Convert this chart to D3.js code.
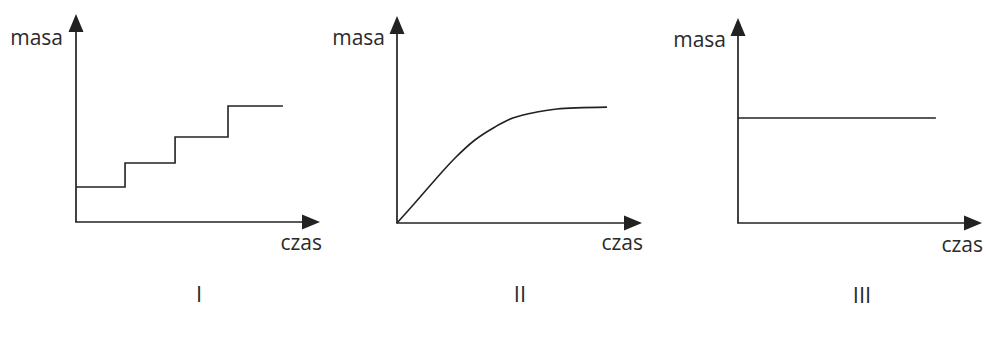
<!DOCTYPE html>
<html>
<head>
<meta charset="utf-8">
<script src="https://cdn.jsdelivr.net/npm/d3@7/dist/d3.min.js"></script>
<style>
  html, body { margin: 0; padding: 0; background: #fff; }
  svg { display: block; }
  text { font-family: "Open Sans", sans-serif; fill: #2a2a2a; font-weight: 500; }
</style>
</head>
<body>
<svg id="chart" width="987" height="360"></svg>
<script>
// Axis labels and panel numerals
const yLabel = "masa";
const xLabel = "czas";
const panelNames = ["I", "II", "III"];

// Panel I: mass rises in steps (time, mass) on a 0–100 scale
const stepTimes  = [0, 20.1, 40.6, 62.3, 84.8];
const stepMasses = [16.8, 28.4, 40.9, 55.8, 55.8];

// Panel II: mass grows then levels off
const curveTimes  = [0, 7.3, 15.5, 23.7, 31.8, 40.0, 47.3, 57.1, 65.3, 85.7];
const curveMasses = [0, 9.7, 20.8, 31.4, 40.1, 46.4, 50.7, 53.6, 55.1, 56.0];

// Panel III: constant mass
const flatTimes  = [0, 81.1];
const flatMasses = [51.2, 51.2];

const ink = "#222";
const svg = d3.select("#chart");

// Frame of each panel: origin, arrow tips, label anchors
const panels = [
  { ox: 76,  oy: 222, xTip: 320, yTip: 14, masaX: 63,  masaY: 45, czasX: 322, czasY: 250, numX: 199, numY: 302 },
  { ox: 397, oy: 223, xTip: 642, yTip: 16, masaX: 385, masaY: 45, czasX: 643, czasY: 250, numX: 520, numY: 302 },
  { ox: 738, oy: 223, xTip: 982, yTip: 18, masaX: 726, masaY: 47, czasX: 983, czasY: 252, numX: 862, numY: 303 }
];

const series = [
  { t: stepTimes,  m: stepMasses,  curve: d3.curveStepAfter },
  { t: curveTimes, m: curveMasses, curve: d3.curveCatmullRom.alpha(0.5) },
  { t: flatTimes,  m: flatMasses,  curve: d3.curveLinear }
];

panels.forEach((p, i) => {
  const g = svg.append("g");
  const x = d3.scaleLinear().domain([0, 100]).range([p.ox, p.xTip]);
  const y = d3.scaleLinear().domain([0, 100]).range([p.oy, p.yTip]);

  const head = 18, half = 7.5;
  // vertical axis with arrow
  g.append("line")
    .attr("x1", x(0)).attr("y1", y(0))
    .attr("x2", x(0)).attr("y2", y(100) + head - 2)
    .attr("stroke", ink).attr("stroke-width", 1.7);
  g.append("path")
    .attr("d", `M${x(0)},${y(100)} L${x(0) - half},${y(100) + head} L${x(0) + half},${y(100) + head} Z`)
    .attr("fill", ink);
  // horizontal axis with arrow
  g.append("line")
    .attr("x1", x(0) - 0.85).attr("y1", y(0))
    .attr("x2", x(100) - head + 2).attr("y2", y(0))
    .attr("stroke", ink).attr("stroke-width", 1.7);
  g.append("path")
    .attr("d", `M${x(100)},${y(0)} L${x(100) - head},${y(0) - half} L${x(100) - head},${y(0) + half} Z`)
    .attr("fill", ink);

  // data line
  const s = series[i];
  const pts = s.t.map((t, k) => [t, s.m[k]]);
  g.append("path")
    .datum(pts)
    .attr("fill", "none")
    .attr("stroke", ink)
    .attr("stroke-width", 1.6)
    .attr("d", d3.line().x(d => x(d[0])).y(d => y(d[1])).curve(s.curve));

  // labels
  g.append("text").attr("x", p.masaX).attr("y", p.masaY)
    .attr("text-anchor", "end").attr("font-size", 21).text(yLabel);
  g.append("text").attr("x", p.czasX).attr("y", p.czasY)
    .attr("text-anchor", "end").attr("font-size", 21).text(xLabel);
  g.append("text").attr("x", p.numX).attr("y", p.numY)
    .attr("text-anchor", "middle").attr("font-size", 22).text(panelNames[i]);
});
</script>
</body>
</html>
